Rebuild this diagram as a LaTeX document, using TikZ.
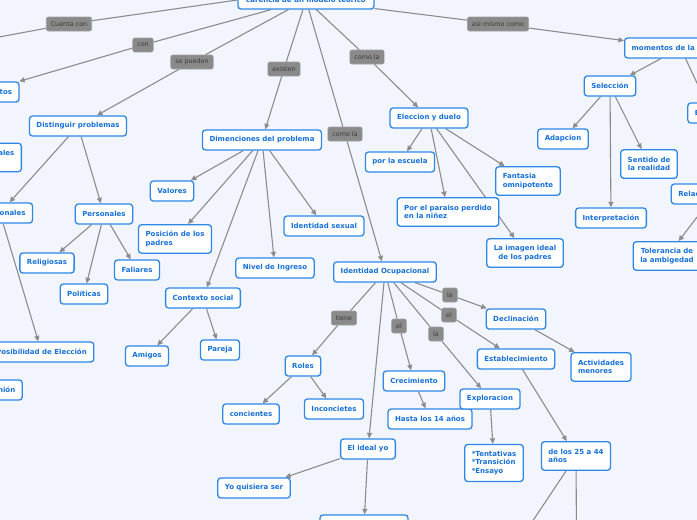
\documentclass[tikz,border=0pt]{standalone}
\usepackage{fontspec}
\setmainfont{DejaVu Sans}
\usepackage{tikz}
\usetikzlibrary{arrows.meta}
\usetikzlibrary{backgrounds}
\usepackage{xcolor}

\definecolor{mapbg}{RGB}{242,245,254}
\definecolor{mapborder}{RGB}{45,135,230}
\definecolor{maptext}{RGB}{22,112,216}
\definecolor{tagfill}{RGB}{138,138,138}
\definecolor{tagline}{RGB}{160,160,160}
\definecolor{tagtext}{RGB}{58,58,58}
\definecolor{linkgray}{RGB}{140,140,140}

\begin{document}
\begin{tikzpicture}[
                x=1pt, y=-1pt,
                every node/.style={font=\fontsize{7}{8.4}\selectfont},
                topic/.style={rectangle, draw=mapborder, fill=white, line width=1.3pt,
                    rounded corners=3pt, text=maptext, align=left,
                    inner xsep=7pt, inner ysep=2pt, minimum height=20pt,
                    font=\fontsize{7}{8.4}\selectfont\bfseries},
                tall/.style={minimum height=28.5pt},
                tag/.style={rectangle, fill=tagfill, draw=tagline, line width=0.6pt,
                    rounded corners=2pt, text=tagtext, inner xsep=4.5pt, inner ysep=1pt,
                    minimum height=14pt, font=\fontsize{6.4}{7.5}\selectfont},
                link/.style={draw=linkgray, line width=1.1pt},
                arrow/.style={link, -{Triangle[length=5.5pt, width=5pt]}},
            ]
            \useasboundingbox (0,0) rectangle (697,520);
            \clip (0,0) rectangle (697,520);
            
            % Root
            \node[topic, minimum width=136pt, minimum height=18pt] (root) at (306,0) {carencia de un modelo teorico};
            
            % Link labels
            \node[tag] (lCuenta) at (69,24) {Cuenta con};
            \node[tag] (lCon) at (143,45) {con};
            \node[tag] (lPueden) at (192,62) {se pueden};
            \node[tag] (lExisten) at (284,69) {existen};
            \node[tag] (lComoA) at (367,57) {como la};
            \node[tag] (lComoB) at (345,134) {como la};
            \node[tag] (lAsi) at (498,24) {asi mismo como};
            \node[tag] (lTiene) at (344,318) {tiene};
            \node[tag] (lElA) at (399,326) {el};
            \node[tag] (lLaA) at (436,334) {la};
            \node[tag] (lElB) at (449,315) {el};
            \node[tag] (lLaB) at (450,295) {la};
            
            % Left branch
            \node[topic] (conoc) at (-17,92) {Conocimientos};
            \node[topic] (distinguir) at (78,126) {Distinguir problemas};
            \node[topic, tall, anchor=east] (sociales) at (22,157.5) {Metas sociales\\y laborales};
            \node[topic] (vocac) at (0,213) {Vocacionales};
            \node[topic] (personales) at (104,214) {Personales};
            \node[topic] (religiosas) at (47,263) {Religiosas};
            \node[topic] (politicas) at (84,294) {Políticas};
            \node[topic] (faliares) at (137,270) {Faliares};
            \node[topic] (posibilidad) at (41.5,352) {Posibilidad de Elección};
            \node[topic] (opinion) at (0,390) {Opinión};
            
            % Dimensions
            \node[topic] (dimen) at (262,140) {Dimenciones del problema};
            \node[topic] (valores) at (172,191) {Valores};
            \node[topic, tall] (posicion) at (175,239) {Posición de los\\padres};
            \node[topic] (contexto) at (203,298) {Contexto social};
            \node[topic] (nivel) at (275,268) {Nivel de Ingreso};
            \node[topic] (sexual) at (324,226) {Identidad sexual};
            \node[topic] (amigos) at (147,356) {Amigos};
            \node[topic] (pareja) at (220,350) {Pareja};
            
            % Eleccion y duelo
            \node[topic] (eleccion) at (429,118) {Eleccion y duelo};
            \node[topic] (escuela) at (400,162) {por la escuela};
            \node[topic, tall] (paraiso) at (448,212) {Por el paraiso perdido\\en la niñez};
            \node[topic, tall] (fantasia) at (528,181) {Fantasia\\omnipotente};
            \node[topic, tall, align=center] (imagen) at (525,253) {La imagen ideal\\de los padres};
            
            % Momentos
            \node[topic, anchor=west] (momentos) at (624,48) {momentos de la elección};
            \node[topic] (eleccionM) at (711,113) {Elección};
            \node[topic] (seleccion) at (610,86) {Selección};
            \node[topic] (adapcion) at (563,139) {Adapcion};
            \node[topic, tall, align=center] (sentido) at (649,164) {Sentido de\\la realidad};
            \node[topic] (interp) at (611,218) {Interpretación};
            \node[topic] (relacion) at (715,194) {Relación de objeto};
            \node[topic, tall, align=center] (tolerancia) at (667,256) {Tolerancia de\\la ambigedad};
            
            % Identidad Ocupacional
            \node[topic] (identidad) at (385,272) {Identidad Ocupacional};
            \node[topic] (roles) at (303,366) {Roles};
            \node[topic] (concientes) at (251,414) {concientes};
            \node[topic] (inconcietes) at (334,409) {Inconcietes};
            \node[topic] (idealyo) at (368,449) {El ideal yo};
            \node[topic] (quisiera) at (254,488) {Yo quisiera ser};
            \node[topic, minimum width=88pt] (idealsub) at (364,525) {};
            \node[topic] (crecim) at (414,381) {Crecimiento};
            \node[topic] (hasta) at (430,419) {Hasta los 14 años};
            \node[topic] (explor) at (490,399) {Exploracion};
            \node[topic, minimum height=37pt] (tentat) at (494,463) {*Tentativas\\*Transición\\*Ensayo};
            \node[topic] (establ) at (516,359) {Establecimiento};
            \node[topic, tall] (de25) at (576,456) {de los 25 a 44\\años};
            \node[topic] (declin) at (516,319) {Declinación};
            \node[topic, tall] (activ) at (601,367) {Actividades\\menores};
            
            % Loose ends beyond the frame
            \coordinate (offCuenta) at (-60,48);
            \coordinate (offA) at (520,540);
            \coordinate (offB) at (576.5,540);
            
            % Connectors
            \begin{scope}[on background layer]
            \fill[mapbg] (0,0) rectangle (697,520);
            \clip (0,0) rectangle (697,520);
            \draw[link] (root.west) -- (lCuenta);
            \draw[arrow] (lCuenta) -- (offCuenta);
            \draw[link] (root) -- (lCon);
            \draw[arrow] (lCon) -- (conoc);
            \draw[link] (root) -- (lPueden);
            \draw[arrow] (lPueden) -- (distinguir);
            \draw[link] (root) -- (lExisten);
            \draw[arrow] (lExisten) -- (dimen);
            \draw[link] (root) -- (lComoA);
            \draw[arrow] (lComoA) -- (eleccion);
            \draw[link] (root) -- (lComoB);
            \draw[arrow] (lComoB) -- (identidad);
            \draw[link] (root) -- (lAsi);
            \draw[arrow] (lAsi) -- (momentos);
            
            \draw[arrow] (distinguir) -- (vocac);
            \draw[arrow] (distinguir) -- (personales);
            \draw[arrow] (vocac) -- (posibilidad);
            \draw[arrow] (personales) -- (religiosas);
            \draw[arrow] (personales) -- (politicas);
            \draw[arrow] (personales) -- (faliares);
            
            \draw[arrow] (dimen) -- (valores);
            \draw[arrow] (dimen) -- (posicion);
            \draw[arrow] (dimen) -- (contexto);
            \draw[arrow] (dimen) -- (nivel);
            \draw[arrow] (dimen) -- (sexual);
            \draw[arrow] (contexto) -- (amigos);
            \draw[arrow] (contexto) -- (pareja);
            
            \draw[arrow] (eleccion) -- (escuela);
            \draw[arrow] (eleccion) -- (paraiso);
            \draw[arrow] (eleccion) -- (fantasia);
            \draw[arrow] (eleccion) -- (imagen);
            
            \draw[arrow] (momentos) -- (seleccion);
            \draw[arrow] (momentos) -- (eleccionM);
            \draw[arrow] (seleccion) -- (adapcion);
            \draw[arrow] (seleccion) -- (sentido);
            \draw[arrow] (seleccion) -- (interp);
            \draw[arrow] (relacion) -- (tolerancia);
            
            \draw[link] (identidad) -- (lTiene);
            \draw[arrow] (lTiene) -- (roles);
            \draw[arrow] (roles) -- (concientes);
            \draw[arrow] (roles) -- (inconcietes);
            \draw[arrow] (identidad) -- (idealyo);
            \draw[arrow] (idealyo) -- (quisiera);
            \draw[arrow] (idealyo) -- (idealsub);
            \draw[link] (identidad) -- (lElA);
            \draw[arrow] (lElA) -- (crecim);
            \draw[arrow] (crecim) -- (hasta);
            \draw[link] (identidad) -- (lLaA);
            \draw[arrow] (lLaA) -- (explor);
            \draw[arrow] (explor) -- (tentat);
            \draw[link] (identidad) -- (lElB);
            \draw[arrow] (lElB) -- (establ);
            \draw[arrow] (establ) -- (de25);
            \draw[arrow] (de25) -- (offA);
            \draw[arrow] (de25) -- (offB);
            \draw[link] (identidad) -- (lLaB);
            \draw[arrow] (lLaB) -- (declin);
            \draw[arrow] (declin) -- (activ);
            \end{scope}
            
            \end{tikzpicture}
\end{document}
